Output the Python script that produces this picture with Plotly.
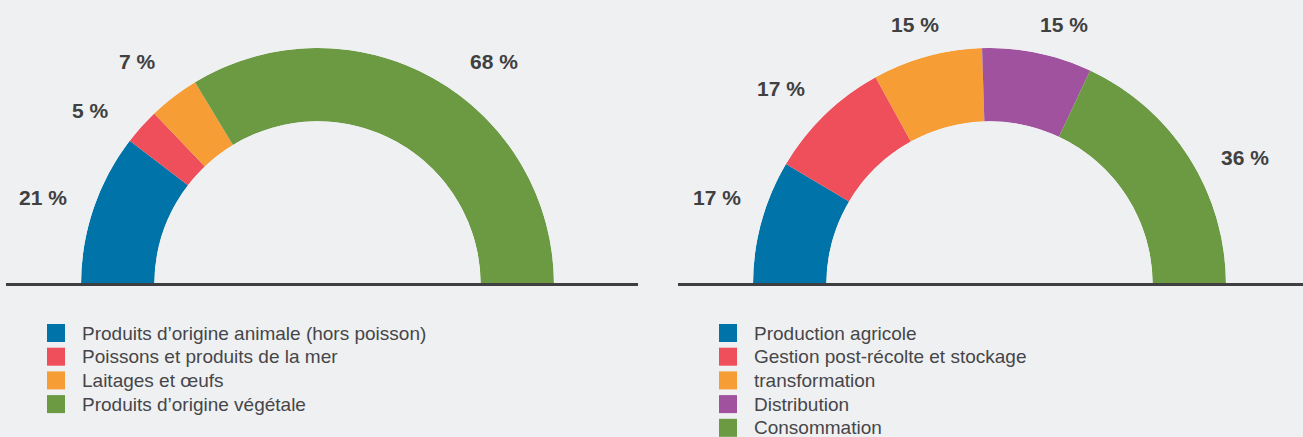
import plotly.graph_objects as go

# ---- data ----
left_categories = ["Produits d\u2019origine animale (hors poisson)", "Poissons et produits de la mer",
                   "Laitages et \u0153ufs", "Produits d\u2019origine v\u00e9g\u00e9tale"]
left_values = [21, 5, 7, 68]
right_categories = ["Production agricole", "Gestion post-r\u00e9colte et stockage", "transformation",
                    "Distribution", "Consommation"]
right_values = [17, 17, 15, 15, 36]

left_colors = ["#0073a8", "#ef4f5b", "#f79d35", "#6b9a42"]
right_colors = ["#0073a8", "#ef4f5b", "#f79d35", "#a0529f", "#6b9a42"]

W, H = 1303, 437
BG = "#eff0f2"
LABEL_COLOR = "#404041"
TEXT_COLOR = "#464649"
FONT = "Liberation Sans, Arial, sans-serif"

# label positions (pixels) for the percentage labels
left_label_px = [(43, 197), (90, 111), (137, 62), (494, 62)]
right_label_px = [(717, 197), (781, 88), (915, 24), (1064, 24), (1245, 157)]


def px(x):
    return x / W


def py(y):
    return 1 - y / H


def arcs(values):
    total = sum(values)
    thetas, widths = [], []
    acc = 0
    for v in values:
        span = v / total * 180
        thetas.append(acc + span / 2)
        widths.append(span)
        acc += span
    return thetas, widths


fig = go.Figure()

for name, vals, cols, cats in [("polar", left_values, left_colors, left_categories),
                               ("polar2", right_values, right_colors, right_categories)]:
    th, wd = arcs(vals)
    fig.add_trace(go.Barpolar(
        r=[1] * len(vals), theta=th, width=wd,
        marker=dict(color=cols, line=dict(width=0)),
        text=cats, hoverinfo="text", showlegend=False, subplot=name,
    ))

polar_common = dict(
    sector=[0, 180], hole=0.69, bgcolor="rgba(0,0,0,0)", bargap=0,
    radialaxis=dict(range=[0, 1], visible=False, showgrid=False),
    angularaxis=dict(rotation=180, direction="clockwise", visible=False, showgrid=False),
)

annotations = []
for vals, pos in [(left_values, left_label_px), (right_values, right_label_px)]:
    for v, (x, y) in zip(vals, pos):
        annotations.append(dict(
            x=px(x), y=py(y), xref="paper", yref="paper", text=f"{v} %", showarrow=False,
            font=dict(family=FONT, size=21, color=LABEL_COLOR, weight="bold"),
            xanchor="center", yanchor="middle",
        ))

shapes = [
    dict(type="line", xref="paper", yref="paper", x0=px(6), x1=px(638), y0=py(284.5), y1=py(284.5),
         line=dict(color="#3f3f41", width=3)),
    dict(type="line", xref="paper", yref="paper", x0=px(678), x1=px(1303), y0=py(284.5), y1=py(284.5),
         line=dict(color="#3f3f41", width=3)),
]

# legends
ROW0, ROWSTEP, SQ = 333, 23.7, 18
for cats, cols, sqx, tx in [(left_categories, left_colors, 47, 80),
                            (right_categories, right_colors, 719, 752)]:
    for i, (c, col) in enumerate(zip(cats, cols)):
        cy = ROW0 + i * ROWSTEP
        shapes.append(dict(type="rect", xref="paper", yref="paper",
                           x0=px(sqx), x1=px(sqx + SQ), y0=py(cy - SQ / 2), y1=py(cy + SQ / 2),
                           fillcolor=col, line=dict(width=0)))
        annotations.append(dict(x=px(tx), y=py(cy), xref="paper", yref="paper", text=c,
                                showarrow=False, xanchor="left", yanchor="middle",
                                font=dict(family=FONT, size=19, color=TEXT_COLOR)))

fig.update_layout(
    width=W, height=H,
    margin=dict(l=0, r=0, t=0, b=0),
    paper_bgcolor=BG, plot_bgcolor=BG,
    polar=dict(domain=dict(x=[px(81), px(554)], y=[py(284.5), py(48)]), **polar_common),
    polar2=dict(domain=dict(x=[px(753), px(1226)], y=[py(284.5), py(48)]), **polar_common),
    annotations=annotations, shapes=shapes, showlegend=False,
)

fig.write_html(
    "out.html",
    config={"displayModeBar": False},
    post_script="document.body.style.margin='0';document.body.style.overflow='hidden';",
)
